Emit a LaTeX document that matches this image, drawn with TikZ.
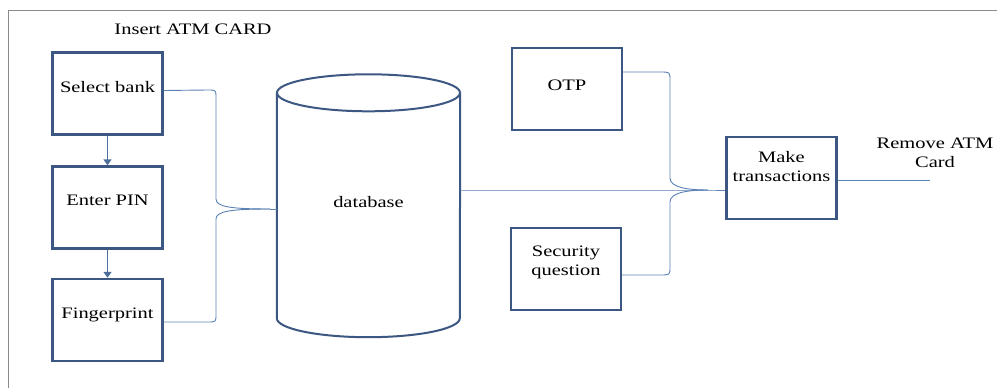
\documentclass[tikz,border=0pt]{standalone}
\usepackage{fontspec}
\setmainfont{Liberation Serif}[FakeStretch=1.28]
\usetikzlibrary{arrows.meta,calc}
\definecolor{boxc}{HTML}{3B5782}
\definecolor{linec}{HTML}{5B81B5}
\definecolor{framec}{HTML}{8A8A8A}
\newcommand{\lift}[2]{\raisebox{#1}[\height][\depth]{#2}}
\newcommand{\mline}[1]{\begin{tabular}{@{}c@{}}#1\end{tabular}}
\begin{document}
\begin{tikzpicture}[x=1pt,y=-1pt,
  every node/.style={font=\fontsize{16}{19}\selectfont, text=black},
  box/.style={draw=boxc, line width=2.4pt, minimum width=110pt, minimum height=82pt, inner sep=0pt, align=center},
  conn/.style={draw=linec, line width=0.9pt},
  flow/.style={draw=linec!85!black, line width=1.8pt, -{Triangle[width=8pt,length=6pt]}},
  cyl/.style={draw=boxc, line width=2pt}]
\useasboundingbox (0,0) rectangle (997,388);
% frame
\draw[framec, line width=0.8pt] (8,388) -- (8,10) -- (997,10);
% left column
\node (ins) at (193,29) {Insert ATM CARD};
\node[box] (sel) at (107.5,93.5) {\lift{6pt}{Select bank}};
\node[box] (ent) at (107.5,207.5) {\lift{7pt}{Enter PIN}};
\node[box] (fin) at (107.5,320) {\lift{5pt}{Fingerprint}};
\draw[flow] (sel.south) -- (ent.north);
\draw[flow] (ent.south) -- (fin.north);
% database cylinder
\node[minimum width=183pt, minimum height=225pt, inner sep=0pt] (db) at (368.5,205.5) {\lift{3pt}{database}};
\draw[cyl] (db.north) ellipse [x radius=91.5pt, y radius=18.5pt];
\draw[cyl] (db.north west) -- (db.south west)
  arc[start angle=180, end angle=360, x radius=91.5pt, y radius=19pt] -- (db.north east);
% left brace
\coordinate (tipL) at (270,209);
\draw[conn] ([yshift=3pt]sel.east) -- (208,90) .. controls (216,90) .. (216,98) -- (216,199)
  .. controls (216,207) and (232,209) .. (tipL);
\draw[conn] ([yshift=-2pt]fin.east) -- (208,322) .. controls (216,322) .. (216,314) -- (216,219)
  .. controls (216,211) and (232,209) .. (tipL);
\draw[conn] (tipL) -- (tipL -| db.west);
% right boxes
\node[box] (otp) at (567,89) {\lift{4pt}{OTP}};
\node[box] (sec) at (566,269) {\lift{7pt}{\mline{Security\\question}}};
\node[box] (mt) at (781.5,178) {\lift{10pt}{\mline{Make\\transactions}}};
% right brace
\coordinate (tipR) at (708,190);
\draw[conn] ([yshift=17pt]otp.east) -- (660,72) .. controls (670,72) .. (670,80) -- (670,178)
  .. controls (670,187) and (686,190) .. (tipR);
\draw[conn] ([yshift=-6pt]sec.east) -- (660,275) .. controls (670,275) .. (670,267) -- (670,202)
  .. controls (670,193) and (686,190) .. (tipR);
\draw[conn] (db.east |- tipR) -- (tipR) -- (tipR -| mt.west);
% output
\coordinate (out) at (930,180);
\draw[conn] (mt.east |- out) -- (out);
\node[align=center] (rem) at (935,153) {Remove ATM\\Card};
\end{tikzpicture}
\end{document}
